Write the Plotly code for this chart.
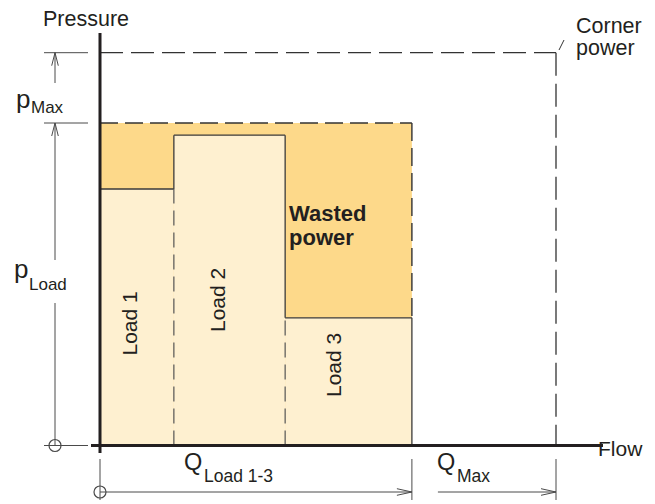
import plotly.graph_objects as go

# ---------------- data (flow in % of Q_max, pressure in % of corner pressure) ----------------
load_names = ["Load 1", "Load 2", "Load 3"]
load_flow_edges = [0.0, 16.2, 40.6, 68.4]     # cumulative flow boundaries of the loads
load_pressures = [65.3, 79.0, 32.5]           # pressure required by each load
p_max = 82.1                                  # pump pressure setting
q_max = 100.0                                 # max pump flow
p_corner = 100.0                              # corner-power pressure

# ---------------- layout constants ----------------
W, H = 655, 504            # window size
OFF = 8                    # page body margin
WF, HF = W - OFF, H - OFF  # figure size
X0, Y0 = 100.0, 445.5      # window-pixel position of the origin
SX, SY = 4.56, 3.928       # pixels per data unit

def Xp(px):   # window pixel -> data x
    return (px - X0) / SX

def Yp(py):   # window pixel -> data y
    return (Y0 - py) / SY

def dx(px):
    return px / SX

def dy(px):
    return px / SY

INK = "#231F20"
DIM = "#4a4a4a"
WASTE_FILL = "#FDD98A"
LOAD_FILL = "#FEF0D0"
FONT = "Liberation Sans, Arial, Helvetica, sans-serif"

shapes = []

def seg(x0, y0, x1, y1, color=DIM, width=1.0, dash="solid"):
    shapes.append(dict(type="line", xref="x", yref="y", x0=x0, y0=y0, x1=x1, y1=y1,
                       line=dict(color=color, width=width, dash=dash)))

def head(tx, ty, direction, L=13, hw=3.3):
    if direction == "up":
        pts = [(tx - dx(hw), ty - dy(L)), (tx, ty), (tx + dx(hw), ty - dy(L))]
    else:  # right
        pts = [(tx - dx(L), ty + dy(hw)), (tx, ty), (tx - dx(L), ty - dy(hw))]
    path = "M {},{} L {},{} L {},{}".format(*[v for p in pts for v in p])
    shapes.append(dict(type="path", xref="x", yref="y", path=path,
                       line=dict(color=DIM, width=1.0)))

q_total = load_flow_edges[-1]

# wasted power area (pump delivers p_max * q_total)
shapes.append(dict(type="rect", xref="x", yref="y", x0=0, x1=q_total, y0=0, y1=p_max,
                   fillcolor=WASTE_FILL, line=dict(width=0), layer="below"))
# loads
for i, p in enumerate(load_pressures):
    shapes.append(dict(type="rect", xref="x", yref="y",
                       x0=load_flow_edges[i], x1=load_flow_edges[i + 1], y0=0, y1=p,
                       fillcolor=LOAD_FILL, line=dict(width=0), layer="below"))

# load envelope (solid) and internal boundaries (dashed)
OUT = "#3a3a3a"
for i, p in enumerate(load_pressures):
    seg(load_flow_edges[i], p, load_flow_edges[i + 1], p, OUT, 1.3)
for i in range(1, len(load_pressures)):
    a, b = load_pressures[i - 1], load_pressures[i]
    seg(load_flow_edges[i], min(a, b), load_flow_edges[i], max(a, b), OUT, 1.3)
    seg(load_flow_edges[i], 0, load_flow_edges[i], min(a, b), "#555555", 1.2, "15px,7px")
seg(q_total, 0, q_total, load_pressures[-1], OUT, 1.3)

# wasted-power boundary (dashed)
seg(0, p_max, q_total, p_max, "#333333", 1.4, "18px,7px")
seg(q_total, p_max, q_total, load_pressures[-1], "#333333", 1.4, "18px,7px")

# corner power (dashed)
seg(0, p_corner, q_max, p_corner, "#333333", 1.3, "23px,8px")
seg(q_max, p_corner, q_max, 0, "#333333", 1.3, "23px,8px")
seg(Xp(559), Yp(50), Xp(564), Yp(40), "#333333", 1.0)

# axes
seg(Xp(91), 0, Xp(603), 0, INK, 3.0)
seg(0, Yp(453), 0, Yp(33), INK, 3.0)

# pressure dimension lines (left)
DIMX = Xp(55)
for yv in (p_corner, p_max, 0):
    seg(Xp(44), yv, Xp(88), yv)
seg(DIMX, Yp(83), DIMX, p_corner)
head(DIMX, p_corner, "up")
seg(DIMX, Yp(260), DIMX, p_max)
head(DIMX, p_max, "up")
seg(DIMX, Yp(303), DIMX, 0)

# flow dimension lines (bottom)
DIMY = Yp(492)
for xv in (0, q_total, q_max):
    seg(xv, Yp(459), xv, Yp(500))
seg(0, DIMY, q_total, DIMY)
head(q_total, DIMY, "right", L=15)
seg(q_total + dx(26), DIMY, q_max, DIMY)
head(q_max, DIMY, "right", L=15)

fig = go.Figure()
fig.add_trace(go.Scatter(x=[DIMX, 0], y=[0, DIMY], mode="markers", hoverinfo="skip",
                         marker=dict(symbol="circle-open", size=12,
                                     line=dict(color=DIM, width=1.2), color=DIM),
                         showlegend=False))

annotations = []

def txt(s, left, baseline, size, bold=False):
    mid = baseline - 0.3465 * size
    annotations.append(dict(text=("<b>%s</b>" % s) if bold else s,
                            xref="paper", yref="paper",
                            x=(left - OFF - 2) / WF, y=1 - (mid - OFF) / HF,
                            xanchor="left", yanchor="middle", showarrow=False,
                            font=dict(family=FONT, size=size, color=INK)))

txt("Pressure", 43, 26.7, 21.5)
txt("Corner", 576, 33, 21.5)
txt("power", 576, 55, 21.5)
txt("p", 16, 108, 26)
txt("Max", 31, 113.5, 17)
txt("p", 14, 278, 26)
txt("Load", 29, 290, 17)
txt("Q", 184, 470.5, 23.5)
txt("Load 1-3", 204, 482, 17.5)
txt("Q", 437, 470.5, 23.5)
txt("Max", 457, 482, 17.5)
txt("Flow", 598, 455.5, 21)
txt("Wasted", 289, 220.7, 22, bold=True)
txt("power", 289, 245, 22, bold=True)

LABEL_POS = [(128.5, 324), (217, 300), (333, 365)]
for name, (cx, cy) in zip(load_names, LABEL_POS):
    annotations.append(dict(text=name, xref="paper", yref="paper",
                            x=(cx - OFF) / WF, y=1 - (cy - OFF) / HF,
                            xanchor="center", yanchor="middle",
                            textangle=-90, showarrow=False,
                            font=dict(family=FONT, size=21, color=INK)))

fig.update_layout(
    width=WF, height=HF, autosize=False,
    margin=dict(l=0, r=0, t=0, b=0),
    paper_bgcolor="white", plot_bgcolor="white",
    xaxis=dict(range=[Xp(OFF), Xp(W)], visible=False, fixedrange=True),
    yaxis=dict(range=[Yp(H), Yp(OFF)], visible=False, fixedrange=True),
    shapes=shapes, annotations=annotations, showlegend=False,
)

fig.write_html("out.html")
